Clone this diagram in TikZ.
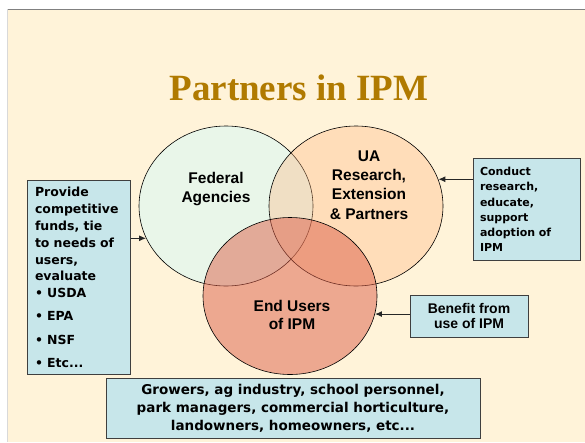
\documentclass[tikz,border=0pt]{standalone}
\usepackage{fontspec}
\usetikzlibrary{shapes.geometric,arrows.meta}
\setmainfont{DejaVu Sans}
\newfontfamily\arialfont{Liberation Sans}
\newfontfamily\timesfont{Liberation Serif}

\definecolor{slidebg}{HTML}{FFF3D9}
\definecolor{titlebrown}{HTML}{B07A00}
\definecolor{fedgreen}{HTML}{E9F6E9}
\definecolor{uaorange}{HTML}{FFB67F}
\definecolor{endred}{HTML}{DD5F49}
\definecolor{boxblue}{HTML}{C7E6EA}
\definecolor{boxline}{HTML}{3F3F3F}

\tikzset{
    venn/.style={ellipse, draw=black, line width=0.6pt, minimum width=174pt, minimum height=160pt, inner sep=0pt},
    vennlabel/.style={align=center, font=\arialfont\bfseries\fontsize{15.5}{18.7}\selectfont},
    infobox/.style={draw=boxline, line width=1pt, fill=boxblue, font=\bfseries},
    feed/.style={draw=black!85, line width=1pt, -{Latex[length=7pt,width=6pt]}}
}

\begin{document}
\begin{tikzpicture}[x=1pt,y=-1pt]
    \useasboundingbox (0,0) rectangle (585,442);
    % Slide background
    \fill[slidebg] (7,9) rectangle (585,442);
    \draw[gray, line width=1pt] (7,9) -- (585,9);
    \draw[black!15] (7,9) -- (7,442);

    % Title
    \node[font=\timesfont\bfseries\fontsize{37}{40}\selectfont, text=titlebrown, anchor=base] (title) at (299,100) {Partners in IPM};

    % Draw circles
    \node[venn, fill=fedgreen] (fed) at (226,206) {};
    \node[venn, fill=uaorange, fill opacity=0.35] (ua) at (356,206) {};
    \node[venn, fill=endred, fill opacity=0.5, minimum height=157pt] (endusers) at (290,296) {};

    % Circle labels
    \node[vennlabel] (fedlabel) at (216,189) {Federal\\Agencies};
    \node[vennlabel, font=\arialfont\bfseries\fontsize{15.5}{19.3}\selectfont] (ualabel) at (369,185) {UA\\Research,\\Extension\\\& Partners};
    \node[vennlabel] (endlabel) at (292,315) {End Users\\of IPM};

    % Draw boxes
    \node[infobox, anchor=north west, minimum width=103pt, minimum height=194pt, inner xsep=7pt, text width=88pt, align=left, font=\bfseries\fontsize{12.5}{16.8}\selectfont] (fundbox) at (27,180)
        {Provide\\competitive\\funds, tie\\to needs of\\users,\\evaluate\\\textbullet{} USDA\\[6.5pt]\textbullet{} EPA\\[6.5pt]\textbullet{} NSF\\[6.5pt]\textbullet{} Etc...};
    \node[infobox, anchor=north west, minimum width=107pt, minimum height=102pt, inner xsep=6pt, text width=94pt, align=left, font=\bfseries\fontsize{11}{15.2}\selectfont] (researchbox) at (473,158)
        {Conduct\\research,\\educate,\\support\\adoption of\\IPM};
    \node[infobox, minimum width=118pt, minimum height=42pt, align=center, font=\arialfont\bfseries\fontsize{14}{15.7}\selectfont] (benefitbox) at (469,316)
        {Benefit from\\use of IPM};
    \node[infobox, minimum width=374pt, minimum height=60pt, align=center, font=\bfseries\fontsize{13.5}{18}\selectfont] (usersbox) at (293,408)
        {Growers, ag industry, school personnel,\\park managers, commercial horticulture,\\landowners, homeowners, etc...};

    % Draw arrows
    \draw[feed] (fundbox.east |- fed.202) -- (fed.202);
    \draw[feed] (researchbox.west |- ua.18) -- (ua.18);
    \draw[feed] (benefitbox.west |- endusers.-12) -- (endusers.-12);
\end{tikzpicture}
\end{document}
